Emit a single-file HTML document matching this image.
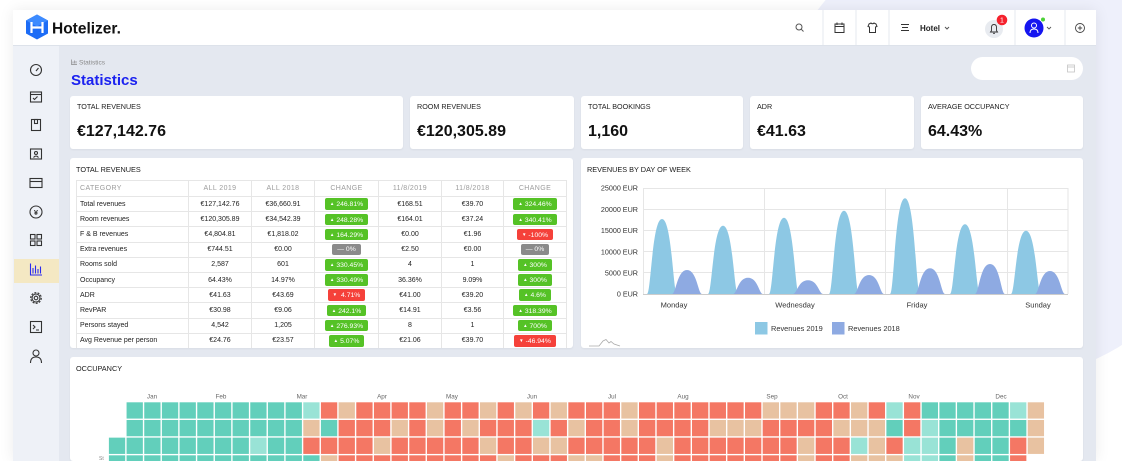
<!DOCTYPE html>
<html><head><meta charset="utf-8">
<style>
*{box-sizing:border-box;margin:0;padding:0}
html{width:1122px;height:461px;overflow:hidden}
body{width:1122px;height:461px;overflow:hidden;position:relative;background:#fff;font-family:"Liberation Sans",Arial,sans-serif;color:#222}
.deco{position:absolute;left:770px;top:-80px;width:460px;height:460px;border-radius:50%;background:#eef0fb}
.app{position:absolute;left:13px;top:10px;width:1083px;height:451px;background:#e4e8f0;box-shadow:0 0 14px rgba(0,0,0,.08)}
.hdr{position:absolute;left:13px;top:10px;width:1083px;height:36px;background:#fff;border-bottom:1px solid #dde2ea}
.side{position:absolute;left:13px;top:46px;width:46px;height:415px;background:#eef1f7}
.card{position:absolute;background:#fff;border-radius:3px;box-shadow:0 1px 2px rgba(0,0,0,.05);overflow:hidden}
.lbl{position:absolute;left:7px;top:6px;font-size:7.2px;color:#222;white-space:nowrap}
.val{position:absolute;left:7px;top:27px;font-size:16px;font-weight:bold;color:#111;white-space:nowrap}
.ttl{position:absolute;left:6px;top:7px;font-size:7.3px;color:#1a1a1a;white-space:nowrap}
.pill{position:absolute;left:971px;top:57px;width:112px;height:23px;border-radius:12px;background:#fff}
table{position:absolute;left:6px;top:22px;width:490px;border-collapse:collapse;table-layout:fixed;font-size:7px}
td{border:1px solid #e6e6e6;padding:0;text-align:center;white-space:nowrap;color:#222;overflow:hidden}
td:first-child{text-align:left;padding-left:3px}
tr{height:15.2px}
tr.h{height:16px}
tr.h td{color:#9c9c9c;letter-spacing:.4px}
.b{display:inline-block;color:#fff;font-size:6.8px;height:11.5px;line-height:11.5px;padding:0 5px;border-radius:2px;vertical-align:middle}
.b span{font-size:4.5px;vertical-align:1px;margin-right:2px}
.g{background:#55c226}.rd{background:#f5413a}.gy{background:#8a8a8a}
svg.hm{position:absolute;left:0;top:0}
.hm rect{width:.922px;height:.922px}
.t{fill:#62cfbb}.l{fill:#99e3d6}.r{fill:#f47764}.a{fill:#e8c2a1}
svg.ov{position:absolute;left:0;top:0}
</style></head><body>
<div class="deco"></div>
<div class="app"></div>
<div class="hdr"></div>
<div class="side"></div>
<div class="pill"></div>

<div class="card" style="left:70px;top:96px;width:333px;height:53px"><div class="lbl">TOTAL REVENUES</div><div class="val">€127,142.76</div></div>
<div class="card" style="left:410px;top:96px;width:164px;height:53px"><div class="lbl">ROOM REVENUES</div><div class="val">€120,305.89</div></div>
<div class="card" style="left:581px;top:96px;width:162px;height:53px"><div class="lbl">TOTAL BOOKINGS</div><div class="val">1,160</div></div>
<div class="card" style="left:750px;top:96px;width:164px;height:53px"><div class="lbl">ADR</div><div class="val">€41.63</div></div>
<div class="card" style="left:921px;top:96px;width:162px;height:53px"><div class="lbl">AVERAGE OCCUPANCY</div><div class="val">64.43%</div></div>

<div class="card" style="left:70px;top:158px;width:503px;height:190px">
<div class="ttl">TOTAL REVENUES</div>
<table>
<colgroup><col style="width:112px"><col style="width:63px"><col style="width:63px"><col style="width:64px"><col style="width:63px"><col style="width:62px"><col style="width:63px"></colgroup>
<tr class="h"><td>CATEGORY</td><td>ALL 2019</td><td>ALL 2018</td><td>CHANGE</td><td>11/8/2019</td><td>11/8/2018</td><td>CHANGE</td></tr>
<tr><td>Total revenues</td><td>€127,142.76</td><td>€36,660.91</td><td><span class="b g"><span>▲</span>246.81%</span></td><td>€168.51</td><td>€39.70</td><td><span class="b g"><span>▲</span>324.46%</span></td></tr>
<tr><td>Room revenues</td><td>€120,305.89</td><td>€34,542.39</td><td><span class="b g"><span>▲</span>248.28%</span></td><td>€164.01</td><td>€37.24</td><td><span class="b g"><span>▲</span>340.41%</span></td></tr>
<tr><td>F &amp; B revenues</td><td>€4,804.81</td><td>€1,818.02</td><td><span class="b g"><span>▲</span>164.29%</span></td><td>€0.00</td><td>€1.96</td><td><span class="b rd"><span>▼</span>-100%</span></td></tr>
<tr><td>Extra revenues</td><td>€744.51</td><td>€0.00</td><td><span class="b gy">— 0%</span></td><td>€2.50</td><td>€0.00</td><td><span class="b gy">— 0%</span></td></tr>
<tr><td>Rooms sold</td><td>2,587</td><td>601</td><td><span class="b g"><span>▲</span>330.45%</span></td><td>4</td><td>1</td><td><span class="b g"><span>▲</span>300%</span></td></tr>
<tr><td>Occupancy</td><td>64.43%</td><td>14.97%</td><td><span class="b g"><span>▲</span>330.49%</span></td><td>36.36%</td><td>9.09%</td><td><span class="b g"><span>▲</span>300%</span></td></tr>
<tr><td>ADR</td><td>€41.63</td><td>€43.69</td><td><span class="b rd"><span>▼</span> 4.71%</span></td><td>€41.00</td><td>€39.20</td><td><span class="b g"><span>▲</span>4.6%</span></td></tr>
<tr><td>RevPAR</td><td>€30.98</td><td>€9.06</td><td><span class="b g"><span>▲</span>242.1%</span></td><td>€14.91</td><td>€3.56</td><td><span class="b g"><span>▲</span>318.39%</span></td></tr>
<tr><td>Persons stayed</td><td>4,542</td><td>1,205</td><td><span class="b g"><span>▲</span>276.93%</span></td><td>8</td><td>1</td><td><span class="b g"><span>▲</span>700%</span></td></tr>
<tr><td>Avg Revenue per person</td><td>€24.76</td><td>€23.57</td><td><span class="b g"><span>▲</span>5.07%</span></td><td>€21.06</td><td>€39.70</td><td><span class="b rd"><span>▼</span>-46.94%</span></td></tr>
</table>
</div>

<div class="card" style="left:581px;top:158px;width:502px;height:190px"><div class="ttl">REVENUES BY DAY OF WEEK</div></div>

<div class="card" style="left:70px;top:357px;width:1013px;height:104px"><div class="ttl" style="top:7px">OCCUPANCY</div>
<svg class="hm" width="1013" height="104" viewBox="0 0 1013 104">
<g transform="translate(38.9 45.3) scale(17.67)">
<g>
<rect class=t x=1 /><rect class=t x=2 /><rect class=t x=3 /><rect class=t x=4 /><rect class=t x=5 /><rect class=t x=6 /><rect class=t x=7 /><rect class=t x=8 /><rect class=t x=9 /><rect class=t x=10 /><rect class=l x=11 /><rect class=r x=12 /><rect class=a x=13 /><rect class=r x=14 /><rect class=r x=15 /><rect class=r x=16 /><rect class=r x=17 /><rect class=a x=18 /><rect class=r x=19 /><rect class=r x=20 /><rect class=a x=21 /><rect class=r x=22 /><rect class=a x=23 /><rect class=r x=24 /><rect class=a x=25 /><rect class=r x=26 /><rect class=r x=27 /><rect class=r x=28 /><rect class=a x=29 /><rect class=r x=30 /><rect class=r x=31 /><rect class=r x=32 /><rect class=r x=33 /><rect class=r x=34 /><rect class=r x=35 /><rect class=r x=36 /><rect class=a x=37 /><rect class=a x=38 /><rect class=a x=39 /><rect class=r x=40 /><rect class=r x=41 /><rect class=a x=42 /><rect class=r x=43 /><rect class=l x=44 /><rect class=r x=45 /><rect class=t x=46 /><rect class=t x=47 /><rect class=t x=48 /><rect class=t x=49 /><rect class=t x=50 /><rect class=l x=51 /><rect class=a x=52 />
</g>
<g transform="translate(0 1)">
<rect class=t x=1 /><rect class=t x=2 /><rect class=t x=3 /><rect class=t x=4 /><rect class=t x=5 /><rect class=t x=6 /><rect class=t x=7 /><rect class=t x=8 /><rect class=t x=9 /><rect class=t x=10 /><rect class=a x=11 /><rect class=t x=12 /><rect class=r x=13 /><rect class=r x=14 /><rect class=r x=15 /><rect class=a x=16 /><rect class=r x=17 /><rect class=a x=18 /><rect class=r x=19 /><rect class=a x=20 /><rect class=r x=21 /><rect class=r x=22 /><rect class=r x=23 /><rect class=l x=24 /><rect class=r x=25 /><rect class=a x=26 /><rect class=r x=27 /><rect class=r x=28 /><rect class=a x=29 /><rect class=r x=30 /><rect class=r x=31 /><rect class=r x=32 /><rect class=r x=33 /><rect class=a x=34 /><rect class=a x=35 /><rect class=a x=36 /><rect class=r x=37 /><rect class=r x=38 /><rect class=r x=39 /><rect class=r x=40 /><rect class=a x=41 /><rect class=a x=42 /><rect class=a x=43 /><rect class=t x=44 /><rect class=r x=45 /><rect class=l x=46 /><rect class=t x=47 /><rect class=t x=48 /><rect class=t x=49 /><rect class=t x=50 /><rect class=t x=51 /><rect class=a x=52 />
</g>
<g transform="translate(0 2)">
<rect class=t x=0 /><rect class=t x=1 /><rect class=t x=2 /><rect class=t x=3 /><rect class=t x=4 /><rect class=t x=5 /><rect class=t x=6 /><rect class=t x=7 /><rect class=l x=8 /><rect class=t x=9 /><rect class=t x=10 /><rect class=r x=11 /><rect class=r x=12 /><rect class=r x=13 /><rect class=r x=14 /><rect class=a x=15 /><rect class=r x=16 /><rect class=r x=17 /><rect class=r x=18 /><rect class=r x=19 /><rect class=r x=20 /><rect class=a x=21 /><rect class=r x=22 /><rect class=r x=23 /><rect class=a x=24 /><rect class=a x=25 /><rect class=r x=26 /><rect class=r x=27 /><rect class=r x=28 /><rect class=r x=29 /><rect class=r x=30 /><rect class=a x=31 /><rect class=r x=32 /><rect class=r x=33 /><rect class=r x=34 /><rect class=r x=35 /><rect class=r x=36 /><rect class=r x=37 /><rect class=r x=38 /><rect class=a x=39 /><rect class=r x=40 /><rect class=r x=41 /><rect class=l x=42 /><rect class=a x=43 /><rect class=r x=44 /><rect class=l x=45 /><rect class=l x=46 /><rect class=t x=47 /><rect class=a x=48 /><rect class=t x=49 /><rect class=t x=50 /><rect class=r x=51 /><rect class=a x=52 />
</g>
<g transform="translate(0 3)">
<rect class=t x=0 /><rect class=t x=1 /><rect class=t x=2 /><rect class=t x=3 /><rect class=t x=4 /><rect class=t x=5 /><rect class=t x=6 /><rect class=t x=7 /><rect class=t x=8 /><rect class=t x=9 /><rect class=t x=10 /><rect class=t x=11 /><rect class=a x=12 /><rect class=r x=13 /><rect class=r x=14 /><rect class=r x=15 /><rect class=r x=16 /><rect class=r x=17 /><rect class=r x=18 /><rect class=r x=19 /><rect class=r x=20 /><rect class=r x=21 /><rect class=a x=22 /><rect class=r x=23 /><rect class=r x=24 /><rect class=r x=25 /><rect class=a x=26 /><rect class=a x=27 /><rect class=r x=28 /><rect class=r x=29 /><rect class=r x=30 /><rect class=a x=31 /><rect class=r x=32 /><rect class=r x=33 /><rect class=r x=34 /><rect class=r x=35 /><rect class=r x=36 /><rect class=r x=37 /><rect class=r x=38 /><rect class=a x=39 /><rect class=r x=40 /><rect class=r x=41 /><rect class=a x=42 /><rect class=a x=43 /><rect class=a x=44 /><rect class=l x=45 /><rect class=l x=46 /><rect class=t x=47 /><rect class=a x=48 /><rect class=t x=49 /><rect class=t x=50 /><rect class=r x=51 />
</g>
</g>
</svg>
</div>

<svg class="ov" width="1122" height="461" viewBox="0 0 1122 461" font-family="Liberation Sans, Arial, sans-serif">
<!-- logo -->
<polygon points="37,14.5 48,20.5 48,33.5 37,39.5 26,33.5 26,20.5" fill="#1c6cf6"/>
<polygon points="37,14.5 48,20.5 37,26.5 26,20.5" fill="#3d8bff"/>
<path d="M31.5,22 L31.5,33 M42.5,22 L42.5,33 M31.5,27.5 L42.5,27.5" stroke="#fff" stroke-width="2.2" fill="none"/>
<text x="52" y="33.5" font-size="15.5" font-weight="bold" fill="#111">Hotelizer.</text>

<!-- header right -->
<g stroke="#e6e9ef" stroke-width="1">
<line x1="823" y1="10" x2="823" y2="45"/><line x1="856" y1="10" x2="856" y2="45"/><line x1="889" y1="10" x2="889" y2="45"/><line x1="1015" y1="10" x2="1015" y2="45"/><line x1="1065" y1="10" x2="1065" y2="45"/>
</g>
<g fill="none" stroke="#555" stroke-width="1">
<circle cx="799" cy="27" r="3"/><line x1="801.2" y1="29.2" x2="803.5" y2="31.5"/>
</g>
<g fill="none" stroke="#333" stroke-width="1">
<rect x="835" y="24" width="9" height="8.5"/><line x1="835" y1="26.5" x2="844" y2="26.5"/><line x1="837" y1="22.5" x2="837" y2="25"/><line x1="842" y1="22.5" x2="842" y2="25"/>
<path d="M869,24 L871,23 Q872.5,24.5 874,23 L876,24 L877,26.5 L875.5,27 L875.5,32.5 L869.5,32.5 L869.5,27 L868,26.5 Z"/>
<line x1="901" y1="24.5" x2="909" y2="24.5"/><line x1="902" y1="27.5" x2="908" y2="27.5"/><line x1="901" y1="30.5" x2="909" y2="30.5"/>
<path d="M945,27 l2,2 l2,-2" stroke="#555"/>
</g>
<text x="920" y="31" font-size="8" font-weight="bold" fill="#222">Hotel</text>
<circle cx="994" cy="29" r="9" fill="#e8ebf0"/>
<path d="M990.5,32 L997.5,32 L996.5,30.5 L996.5,27.5 Q996.5,24.5 994,24.5 Q991.5,24.5 991.5,27.5 L991.5,30.5 Z M993,33.3 L995,33.3" fill="none" stroke="#333" stroke-width="0.9"/>
<circle cx="1002" cy="20" r="5.3" fill="#f5222d"/>
<text x="1002" y="22.4" font-size="7" fill="#fff" text-anchor="middle">1</text>
<circle cx="1034" cy="28" r="9.5" fill="#1515f0"/>
<circle cx="1034" cy="25.5" r="2.5" fill="none" stroke="#fff" stroke-width="1"/>
<path d="M1030,33 Q1030,29 1034,29 Q1038,29 1038,33" fill="none" stroke="#fff" stroke-width="1"/>
<circle cx="1043" cy="19.5" r="2" fill="#4cd137"/>
<path d="M1047,27 l2,2 l2,-2" fill="none" stroke="#555" stroke-width="0.9"/>
<circle cx="1080" cy="28" r="4.5" fill="none" stroke="#444" stroke-width="0.9"/>
<path d="M1080,25.8 L1080,30.2 M1077.8,28 L1082.2,28" stroke="#444" stroke-width="0.9"/>

<!-- sidebar -->
<rect x="14" y="259" width="45" height="24" fill="#f4e8c3"/>
<g fill="none" stroke="#333" stroke-width="1.1">
<circle cx="36" cy="70" r="5.5"/><line x1="36" y1="71" x2="38.5" y2="68"/>
<rect x="30.5" y="92" width="11" height="10"/><line x1="30.5" y1="94.5" x2="41.5" y2="94.5"/><path d="M33,98 l1.5,1.5 l3,-3"/>
<rect x="31.5" y="119.5" width="9" height="11"/><rect x="34.5" y="119.5" width="3" height="4"/>
<rect x="30.5" y="149" width="11" height="10"/><circle cx="36" cy="153" r="1.5"/><path d="M33.5,157.5 Q36,154.5 38.5,157.5"/>
<rect x="30" y="178.5" width="12" height="9"/><line x1="30" y1="181.5" x2="42" y2="181.5"/>
<circle cx="36" cy="212" r="6"/>
<rect x="30.5" y="234.5" width="4.5" height="4.5"/><rect x="37" y="234.5" width="4.5" height="4.5"/><rect x="30.5" y="241" width="4.5" height="4.5"/><rect x="37" y="241" width="4.5" height="4.5"/>
<circle cx="36" cy="298" r="5.3" stroke-dasharray="2 1.3"/><circle cx="36" cy="298" r="4"/><circle cx="36" cy="298" r="1.8"/>
<rect x="30.5" y="321.5" width="11" height="11"/><path d="M33,325 l2,2 l-2,2 M36,330 L39,330"/>
<circle cx="36" cy="353" r="3"/><path d="M30.5,363 Q30.5,357 36,357 Q41.5,357 41.5,363"/>
</g>
<text x="36" y="215" font-size="7.5" text-anchor="middle" fill="#333" font-weight="bold">¥</text>
<g fill="none" stroke="#2a2af0" stroke-width="1.1">
<path d="M30.5,263.5 L30.5,275 L42,275"/><line x1="33" y1="273.5" x2="33" y2="268"/><line x1="35.5" y1="273.5" x2="35.5" y2="265.5"/><line x1="38" y1="273.5" x2="38" y2="269"/><line x1="40.5" y1="273.5" x2="40.5" y2="266.5"/>
</g>

<!-- breadcrumb & title -->
<g fill="none" stroke="#888" stroke-width="0.7"><path d="M71.5,59.5 L71.5,64.5 L77,64.5"/><line x1="73" y1="63.5" x2="73" y2="61.5"/><line x1="74.5" y1="63.5" x2="74.5" y2="60.5"/><line x1="76" y1="63.5" x2="76" y2="61"/></g>
<text x="79" y="64.3" font-size="6.5" fill="#888">Statistics</text>
<text x="71" y="85" font-size="15" font-weight="bold" fill="#1b22f0">Statistics</text>
<rect x="1067.5" y="65" width="7" height="7" fill="none" stroke="#c4c4c4" stroke-width="0.8"/><line x1="1067.5" y1="67" x2="1074.5" y2="67" stroke="#c4c4c4" stroke-width="0.8"/>

<!-- chart grid -->
<g stroke="#e6e6e6" stroke-width="1">
<line x1="643" y1="188.5" x2="1068" y2="188.5"/><line x1="643" y1="209.5" x2="1068" y2="209.5"/><line x1="643" y1="230.5" x2="1068" y2="230.5"/><line x1="643" y1="251.5" x2="1068" y2="251.5"/><line x1="643" y1="272.5" x2="1068" y2="272.5"/>
<line x1="643.5" y1="188" x2="643.5" y2="294"/><line x1="764.5" y1="188" x2="764.5" y2="294"/><line x1="885.5" y1="188" x2="885.5" y2="294"/><line x1="1007.5" y1="188" x2="1007.5" y2="294"/><line x1="1068" y1="188" x2="1068" y2="294"/>
</g>
<g font-size="7.2" fill="#333" text-anchor="end">
<text x="638" y="190.7">25000 EUR</text><text x="638" y="211.9">20000 EUR</text><text x="638" y="233.1">15000 EUR</text><text x="638" y="254.3">10000 EUR</text><text x="638" y="275.5">5000 EUR</text><text x="638" y="296.7">0 EUR</text>
</g>
<g fill="#8dc8e4">
<path d="M647,294 C651,294 652,219 662,219 C672,219 673,294 677,294 Z"/>
<path d="M708,294 C712,294 713,225.7 723,225.7 C733,225.7 734,294 738,294 Z"/>
<path d="M769,294 C773,294 774,217.7 784,217.7 C794,217.7 795,294 799,294 Z"/>
<path d="M829,294 C833,294 834,210.7 844,210.7 C854,210.7 855,294 859,294 Z"/>
<path d="M890,294 C894,294 895,198.3 905,198.3 C915,198.3 916,294 920,294 Z"/>
<path d="M950,294 C954,294 955,224.3 965,224.3 C975,224.3 976,294 980,294 Z"/>
<path d="M1011,294 C1015,294 1016,230.7 1026,230.7 C1036,230.7 1037,294 1041,294 Z"/>
</g>
<g fill="#8eaae2">
<path d="M672,294 C676,294 677,270 687,270 C697,270 698,294 702,294 Z"/>
<path d="M733,294 C737,294 738,277.7 748,277.7 C758,277.7 759,294 763,294 Z"/>
<path d="M793,294 C797,294 798,280.3 808,280.3 C818,280.3 819,294 823,294 Z"/>
<path d="M854,294 C858,294 859,275 869,275 C879,275 880,294 884,294 Z"/>
<path d="M915,294 C919,294 920,268.3 930,268.3 C940,268.3 941,294 945,294 Z"/>
<path d="M975,294 C979,294 980,264 990,264 C1000,264 1001,294 1005,294 Z"/>
<path d="M1035,294 C1039,294 1040,271 1050,271 C1060,271 1061,294 1065,294 Z"/>
</g>
<line x1="643" y1="294.5" x2="1068" y2="294.5" stroke="#cccccc" stroke-width="1"/>
<g font-size="7.5" fill="#333" text-anchor="middle">
<text x="674" y="307.5">Monday</text><text x="795" y="307.5">Wednesday</text><text x="917" y="307.5">Friday</text><text x="1038" y="307.5">Sunday</text>
</g>
<rect x="755" y="322" width="12.5" height="12.5" fill="#8dc8e4"/>
<text x="771" y="331" font-size="7.4" fill="#333">Revenues 2019</text>
<rect x="832" y="322" width="12.5" height="12.5" fill="#8eaae2"/>
<text x="848" y="331" font-size="7.4" fill="#333">Revenues 2018</text>
<path d="M589,346 L599,346 L603,341 L606,339.5 L609,343 L611,341.5 L614,344 L620,346" fill="none" stroke="#aaa" stroke-width="0.8"/>

<!-- heatmap months -->
<g font-size="6.3" fill="#666" text-anchor="middle">
<text x="152" y="398.3">Jan</text><text x="221" y="398.3">Feb</text><text x="302" y="398.3">Mar</text><text x="382" y="398.3">Apr</text><text x="452" y="398.3">May</text><text x="532" y="398.3">Jun</text><text x="612" y="398.3">Jul</text><text x="683" y="398.3">Aug</text><text x="772" y="398.3">Sep</text><text x="843" y="398.3">Oct</text><text x="914" y="398.3">Nov</text><text x="1001" y="398.3">Dec</text>
</g>
<text x="99" y="460" font-size="5" fill="#888">St</text>
</svg>
</body></html>
